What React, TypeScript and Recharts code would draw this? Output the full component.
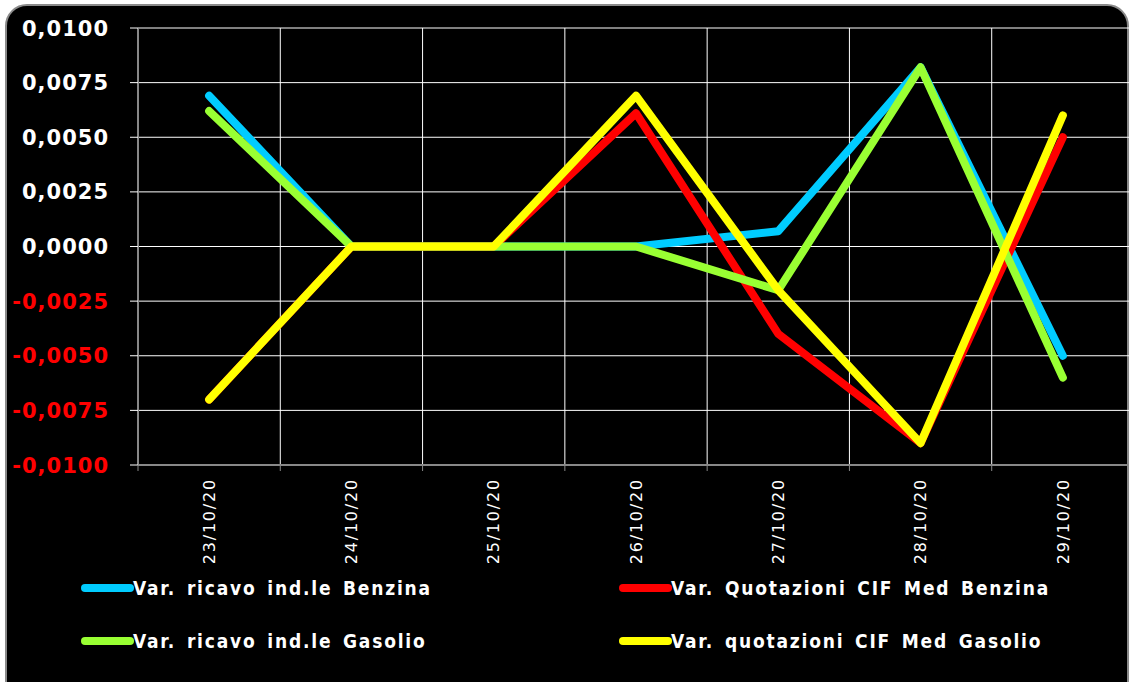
import React from 'react';
import { LineChart, Line, XAxis, YAxis, CartesianGrid, Legend } from 'recharts';

const categories = ['23/10/20', '24/10/20', '25/10/20', '26/10/20', '27/10/20', '28/10/20', '29/10/20'];
const ricavoBenzina = [0.0069, 0, 0, 0, 0.0007, 0.0082, -0.005];
const quotazioniBenzina = [-0.007, 0, 0, 0.0061, -0.004, -0.009, 0.005];
const ricavoGasolio = [0.0062, 0, 0, 0, -0.002, 0.0082, -0.006];
const quotazioniGasolio = [-0.007, 0, 0, 0.0069, -0.002, -0.009, 0.006];
const yTicks = [-0.01, -0.0075, -0.005, -0.0025, 0, 0.0025, 0.005, 0.0075, 0.01];

const seriesNames = [
  'Var. ricavo ind.le Benzina',
  'Var. Quotazioni CIF Med Benzina',
  'Var. ricavo ind.le Gasolio',
  'Var. quotazioni CIF Med Gasolio',
];
const seriesKeys = ['rb', 'qb', 'rg', 'qg'];
const seriesColors = ['#00CCFF', '#FF0000', '#99FF33', '#FFFF00'];

const data = categories.map((c, i) => ({
  cat: c,
  rb: ricavoBenzina[i],
  qb: quotazioniBenzina[i],
  rg: ricavoGasolio[i],
  qg: quotazioniGasolio[i],
}));

const fmt = (v: number) => v.toFixed(4).replace('.', ',');

const YTick = (props: any) => {
  const { x, y, payload } = props;
  const v = Number(payload.value);
  return (
    <text
      x={x}
      y={y}
      dy="0.36em"
      textAnchor="end"
      fill={v < 0 ? '#FF0000' : '#FFFFFF'}
      fontFamily="'DejaVu Sans', Verdana, sans-serif"
      fontWeight="bold"
      fontSize={21}
      letterSpacing={1}
    >
      {fmt(v)}
    </text>
  );
};

const XTick = (props: any) => {
  const { x, y, payload, index } = props;
  const half = payload && payload.offset ? payload.offset : 71;
  const axisY = y - 13;
  return (
    <g>
      <line x1={x - half} y1={axisY} x2={x - half} y2={axisY + 6} stroke="#888" strokeWidth={1} />
      {index === categories.length - 1 && (
        <line x1={x + half} y1={axisY} x2={x + half} y2={axisY + 6} stroke="#888" strokeWidth={1} />
      )}
      <text
        x={x}
        y={y}
        dy="0.36em"
        textAnchor="end"
        transform={`rotate(-90, ${x}, ${y})`}
        fill="#FFFFFF"
        fontFamily="'DejaVu Sans', Verdana, sans-serif"
        fontSize={16}
        letterSpacing={1.8}
      >
        {payload.value}
      </text>
    </g>
  );
};

const LegendContent = () => {
  const items = seriesNames.map((n, i) => ({
    name: n,
    color: seriesColors[i],
    left: i % 2 === 0 ? 80 : 618,
    top: i < 2 ? 22 : 75,
  }));
  return (
    <div style={{ position: 'relative', width: 1140, height: 116 }}>
      {items.map((it) => (
        <div
          key={it.name}
          style={{
            position: 'absolute',
            left: it.left,
            top: it.top - 12,
            height: 24,
            display: 'flex',
            alignItems: 'center',
            whiteSpace: 'nowrap',
          }}
        >
          <svg width={54} height={24} style={{ display: 'block' }}>
            <line x1={5} y1={12} x2={50} y2={12} stroke={it.color} strokeWidth={8} strokeLinecap="round" />
          </svg>
          <span
            style={{
              color: '#FFFFFF',
              fontFamily: "'DejaVu Sans Condensed', 'DejaVu Sans', sans-serif",
              fontWeight: 'bold',
              fontSize: 19,
              letterSpacing: 1.8,
              wordSpacing: 3,
              marginLeft: -1,
            }}
          >
            {it.name}
          </span>
        </div>
      ))}
    </div>
  );
};

export default function App() {
  return (
    <div
      style={{
        position: 'fixed',
        left: 0,
        top: 0,
        width: 1129,
        height: 682,
        overflow: 'hidden',
        background: '#FFFFFF',
      }}
    >
      <div
        style={{
          position: 'absolute',
          left: 5,
          top: 4,
          width: 1120,
          height: 700,
          background: '#000000',
          border: '2px solid #8a8a8a',
          borderRadius: 22,
        }}
      />
      <div style={{ position: 'absolute', left: 0, top: 0 }}>
        <LineChart
          width={1140}
          height={682}
          data={data}
          margin={{ top: 28, right: 6, left: 0, bottom: 0 }}
        >
          <CartesianGrid
            stroke="#FFFFFF"
            strokeWidth={1}
            horizontal={true}
            vertical={true}
            verticalCoordinatesGenerator={({ offset }: any) =>
              [1, 2, 3, 4, 5, 6].map((i) => offset.left + (i * offset.width) / categories.length)
            }
          />
          <XAxis
            dataKey="cat"
            scale="band"
            height={101}
            interval={0}
            tickLine={false}
            tickSize={6}
            tickMargin={7}
            axisLine={{ stroke: '#888', strokeWidth: 2 }}
            tick={<XTick />}
          />
          <YAxis
            width={138}
            domain={[-0.01, 0.01]}
            ticks={yTicks}
            interval={0}
            tickSize={8}
            tickMargin={21}
            tickLine={{ stroke: '#FFFFFF' }}
            axisLine={{ stroke: '#888', strokeWidth: 2 }}
            tick={<YTick />}
          />
          <Legend
            verticalAlign="bottom"
            content={<LegendContent />}
            wrapperStyle={{ left: 0, width: 1140, height: 116, bottom: 0 }}
          />
          {seriesKeys.map((k, i) => (
            <Line
              key={k}
              type="linear"
              dataKey={k}
              name={seriesNames[i]}
              stroke={seriesColors[i]}
              strokeWidth={8}
              strokeLinecap="round"
              strokeLinejoin="round"
              dot={false}
              activeDot={false}
              isAnimationActive={false}
            />
          ))}
        </LineChart>
      </div>
    </div>
  );
}
